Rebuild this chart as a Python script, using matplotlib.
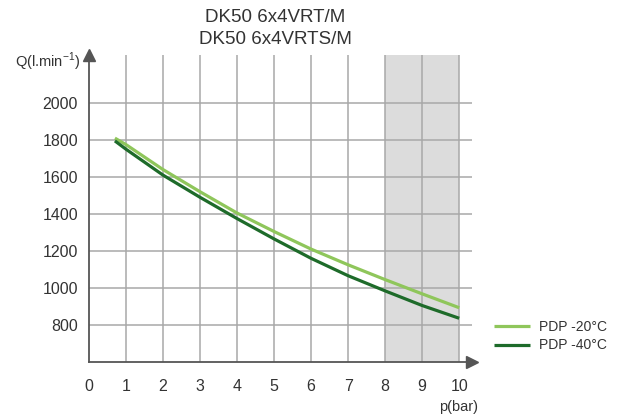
import matplotlib
matplotlib.use("Agg")
import matplotlib.pyplot as plt

# flow curves
p_bar = [0.7, 1, 2, 3, 4, 5, 6, 7, 8, 9, 10]
q_pdp20 = [1810, 1775, 1640, 1520, 1405, 1305, 1210, 1125, 1045, 968, 893]
q_pdp40 = [1795, 1750, 1610, 1490, 1375, 1265, 1160, 1066, 984, 905, 836]
x_ticks = list(range(0, 11))
y_ticks = [800, 1000, 1200, 1400, 1600, 1800, 2000]
shade = (8, 10)
title_lines = ["DK50 6x4VRT/M", "DK50 6x4VRTS/M"]

LIGHT, DARK = "#8fc65b", "#1e6b2a"
GRID, AXC, TXT = "#a8a8a8", "#555555", "#333333"
FONT = ["Liberation Sans", "DejaVu Sans"]

fig = plt.figure(figsize=(6.18, 4.16), dpi=100)
ax = fig.add_axes([0.144, 0.130, 0.620, 0.738])
ax.set_xlim(0, 10.35)
ax.set_ylim(600, 2260)

ax.axvspan(*shade, color="#dcdcdc", zorder=0, lw=0)
for x in x_ticks[1:]:
    ax.axvline(x, color=GRID, lw=1.1, zorder=1)
for y in y_ticks:
    ax.axhline(y, color=GRID, lw=1.1, zorder=1)

ax.plot(p_bar, q_pdp20, color=LIGHT, lw=2.3, label="PDP -20°C", zorder=3,
        solid_capstyle="butt")
ax.plot(p_bar, q_pdp40, color=DARK, lw=2.3, label="PDP -40°C", zorder=3,
        solid_capstyle="butt")

for s in ("top", "right"):
    ax.spines[s].set_visible(False)
for s in ("left", "bottom"):
    ax.spines[s].set_color(AXC)
    ax.spines[s].set_linewidth(1.3)
# axis arrows
ax.plot(0, 1, marker="^", ms=8, color=AXC, transform=ax.get_xaxis_transform(),
        clip_on=False, zorder=5)
ax.plot(1, 600, marker=">", ms=8, color=AXC, transform=ax.get_yaxis_transform(),
        clip_on=False, zorder=5)

ax.set_xticks(x_ticks)
ax.set_xticklabels([str(x) for x in x_ticks], family=FONT, fontsize=11.5,
                   color=TXT)
ax.set_yticks(y_ticks)
ax.set_yticklabels([str(y) for y in y_ticks], family=FONT, fontsize=11.5,
                   color=TXT)
ax.tick_params(axis="x", length=0, pad=12)
ax.tick_params(axis="y", length=0, pad=8)

fig.text(80 / 618, 1 - 62 / 416, r"Q(l.min$^{\mathregular{-1}}$)", ha="right",
         va="center", family=FONT, fontsize=10.5, color=TXT)
fig.text(478 / 618, 1 - 407 / 416, "p(bar)", ha="right", va="center",
         family=FONT, fontsize=10.5, color=TXT)
fig.text(275 / 618, 1 - 17 / 416, title_lines[0], ha="center", va="center",
         family=FONT, fontsize=13.5, color=TXT)
fig.text(275 / 618, 1 - 40 / 416, title_lines[1], ha="center", va="center",
         family=FONT, fontsize=13.5, color=TXT)

leg = ax.legend(loc="center left", bbox_to_anchor=(481 / 618, 1 - 336 / 416),
                bbox_transform=fig.transFigure, frameon=False, handlelength=2.6,
                handletextpad=0.7, labelspacing=0.35,
                prop={"family": FONT, "size": 10})
for t in leg.get_texts():
    t.set_color(TXT)

fig.savefig("out.png", dpi=100)
